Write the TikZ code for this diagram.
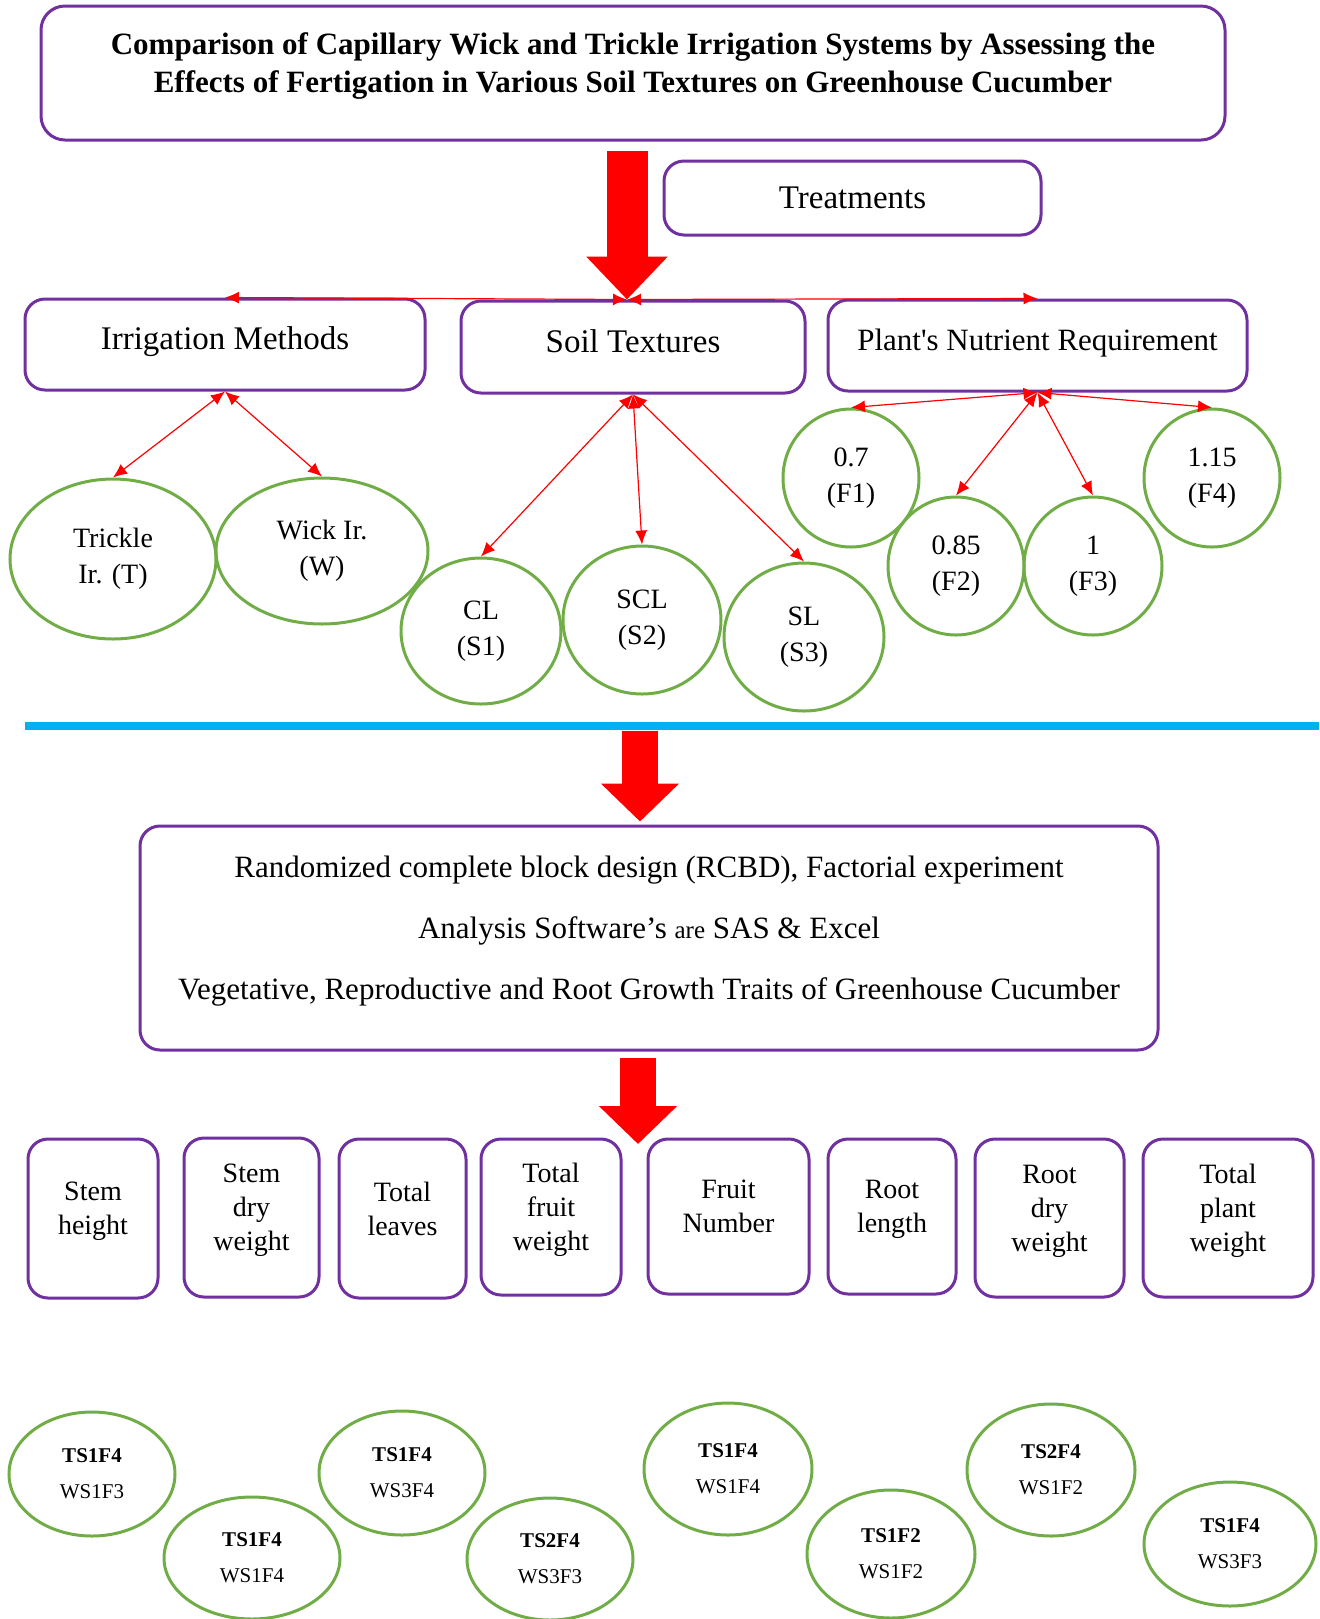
\documentclass[tikz,border=0pt]{standalone}
\usepackage{fontspec}
\setmainfont{Liberation Serif}
\usetikzlibrary{arrows.meta,shapes.geometric}
\tikzset{>={Latex[length=7pt,width=6pt]}}
\definecolor{boxpurple}{HTML}{7030A0}
\definecolor{leafgreen}{HTML}{70AD47}
\definecolor{lineblue}{HTML}{00B0F0}

\begin{document}
\begin{tikzpicture}[x=0.5pt,y=-0.5pt,align=center]
\tikzstyle{box} = [rectangle,draw=boxpurple,line width=1.5pt,rounded corners=10pt,inner sep=2pt,font=\fontsize{16.5}{19}\selectfont]
\tikzstyle{trait} = [box,text depth=10pt,font=\fontsize{14}{17}\selectfont]
\tikzstyle{leaf} = [ellipse,draw=leafgreen,line width=1.5pt,inner sep=0pt,font=\fontsize{14}{18}\selectfont]
\tikzstyle{combo} = [leaf,font=\fontsize{10.5}{18}\selectfont]
\tikzstyle{link} = [<->,red,line width=0.6pt]
\tikzstyle{bigarrow} = [red,line width=18pt,-{Triangle[length=19pt,width=38pt]}]
\useasboundingbox (0,0) rectangle (1319,1619);
\node[box,rounded corners=12pt,minimum width=592pt,minimum height=67pt,text depth=10.5pt,font=\bfseries\fontsize{15.5}{19}\selectfont] (title) at (633,73) {Comparison of Capillary Wick and Trickle Irrigation Systems by Assessing the\\Effects of Fertigation in Various Soil Textures on Greenhouse Cucumber};
\node[box,minimum width=188.5pt,minimum height=37pt] (treat) at (852.5,198) {Treatments};
\node[box,minimum width=200pt,minimum height=45.5pt,text depth=6pt] (irr) at (225,344.5) {Irrigation Methods};
\node[box,minimum width=172pt,minimum height=46pt,text depth=6pt] (soil) at (633,347) {Soil Textures};
\node[box,minimum width=209.5pt,minimum height=45.5pt,text depth=6pt,font=\fontsize{15.5}{19}\selectfont] (nutr) at (1037.5,345.5) {Plant\textquotesingle s Nutrient Requirement};
\node[leaf,minimum width=103pt,minimum height=80pt] (trickle) at (113,559) {Trickle\\Ir. (T)};
\node[leaf,minimum width=106pt,minimum height=73pt] (wick) at (322,551) {Wick Ir.\\(W)};
\node[leaf,minimum width=80pt,minimum height=73pt] (cl) at (481,631) {CL\\(S1)};
\node[leaf,minimum width=79pt,minimum height=74pt] (scl) at (642,620) {SCL\\(S2)};
\node[leaf,minimum width=80pt,minimum height=74pt] (sl) at (804,637) {SL\\(S3)};
\node[leaf,minimum width=68pt,minimum height=69pt] (fone) at (851,478) {0.7\\(F1)};
\node[leaf,minimum width=68pt,minimum height=69pt] (ftwo) at (956,566) {0.85\\(F2)};
\node[leaf,minimum width=69pt,minimum height=69pt] (fthree) at (1093,566) {1\\(F3)};
\node[leaf,minimum width=68pt,minimum height=69pt] (ffour) at (1212,478) {1.15\\(F4)};
\node[box,minimum width=509pt,minimum height=112pt,text depth=10.5pt,font=\fontsize{15.5}{30.5}\selectfont] (design) at (649,938) {Randomized complete block design (RCBD), Factorial experiment\\Analysis Software’s {\fontsize{12.5}{14}\selectfont are} SAS \& Excel\\Vegetative, Reproductive and Root Growth Traits of Greenhouse Cucumber};
\node[trait,minimum width=65pt,minimum height=79.5pt] (stemh) at (93,1218.5) {Stem\\height};
\node[trait,minimum width=67.5pt,minimum height=79.5pt] (stemdw) at (251.5,1217.5) {Stem\\dry\\weight};
\node[trait,minimum width=63.5pt,minimum height=79.5pt] (leaves) at (402.5,1218.5) {Total\\leaves};
\node[trait,minimum width=70pt,minimum height=78pt] (fruitw) at (551,1217) {Total\\fruit\\weight};
\node[trait,minimum width=80.5pt,minimum height=77.5pt] (fruitn) at (728.5,1216.5) {Fruit\\Number};
\node[trait,minimum width=64pt,minimum height=77.5pt] (rootl) at (892,1216.5) {Root\\length};
\node[trait,minimum width=74.5pt,minimum height=79pt] (rootdw) at (1049.5,1218) {Root\\dry\\weight};
\node[trait,minimum width=85pt,minimum height=79pt] (plantw) at (1228,1218) {Total\\plant\\weight};
\node[combo,minimum width=83pt,minimum height=62pt] (best1) at (92,1474) {\textbf{TS1F4}\\WS1F3};
\node[combo,minimum width=88pt,minimum height=61pt] (best2) at (252,1558) {\textbf{TS1F4}\\WS1F4};
\node[combo,minimum width=83pt,minimum height=62pt] (best3) at (402,1473) {\textbf{TS1F4}\\WS3F4};
\node[combo,minimum width=83pt,minimum height=61pt] (best4) at (550,1559) {\textbf{TS2F4}\\WS3F3};
\node[combo,minimum width=84pt,minimum height=66pt] (best5) at (728,1469) {\textbf{TS1F4}\\WS1F4};
\node[combo,minimum width=84pt,minimum height=64pt] (best6) at (891,1554) {\textbf{TS1F2}\\WS1F2};
\node[combo,minimum width=84pt,minimum height=66pt] (best7) at (1051,1470) {\textbf{TS2F4}\\WS1F2};
\node[combo,minimum width=86pt,minimum height=62pt] (best8) at (1230,1544) {\textbf{TS1F4}\\WS3F3};
\coordinate (hub) at ([xshift=-3pt]soil.north);
\coordinate (cut) at (640,731);
\coordinate (split) at (638,1144);
\draw[line width=4pt,lineblue] (25,726) -- (1319,726);
\draw[bigarrow,line width=20.5pt,-{Triangle[length=21.5pt,width=39.5pt]}] ([xshift=-3pt,yshift=-4.5pt]title.south) -- (hub);
\draw[bigarrow] (cut) -- ([xshift=-4.5pt,yshift=1.5pt]design.north);
\draw[bigarrow] ([xshift=-5.5pt,yshift=-3pt]design.south) -- (split);
\draw[link] (irr.north) -- (hub);
\draw[link] (hub) -- (nutr.north);
\draw[link] (irr.south) -- (trickle.north);
\draw[link] (irr.south) -- (wick.north);
\draw[link] (soil.south) -- (cl.north);
\draw[link] (soil.south) -- (scl.north);
\draw[link] (soil.south) -- (sl.north);
\draw[link] (nutr.south) -- (fone.north);
\draw[link] (nutr.south) -- (ftwo.north);
\draw[link] (nutr.south) -- (fthree.north);
\draw[link] (nutr.south) -- (ffour.north);
\end{tikzpicture}
\end{document}
